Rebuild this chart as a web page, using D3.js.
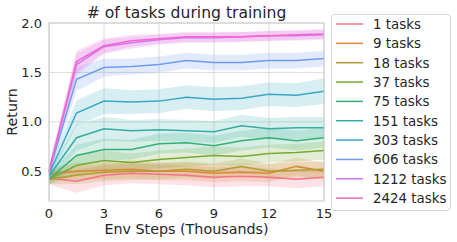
<!DOCTYPE html>
<meta charset="utf-8">
<head>
    <script type="text/javascript" src="https://cdn.jsdelivr.net/npm/d3@7"></script>
    <style>
        body { margin: 0; background: #fff; }
        text { font-family: "DejaVu Sans", sans-serif; fill: #262626; }
    </style>
</head>
<body>
<div id="chart"></div>
<script>
    // env steps (thousands)
    var steps = [0, 1.5, 3, 4.5, 6, 7.5, 9, 10.5, 12, 13.5, 15];
    var taskLabels = ["1 tasks", "9 tasks", "18 tasks", "37 tasks", "75 tasks",
        "151 tasks", "303 tasks", "606 tasks", "1212 tasks", "2424 tasks"];
    var colors = ["#f77189", "#dc8932", "#ae9d31", "#77ab31", "#33b07a",
        "#36ada4", "#38a9c5", "#6e9bf4", "#cc7af4", "#f565cc"];

    // mean return per series
    var ret1    = [0.43, 0.40, 0.46, 0.48, 0.47, 0.46, 0.44, 0.45, 0.44, 0.42, 0.44];
    var ret9    = [0.47, 0.50, 0.51, 0.52, 0.50, 0.50, 0.48, 0.49, 0.48, 0.55, 0.50];
    var ret18   = [0.42, 0.46, 0.49, 0.50, 0.50, 0.52, 0.50, 0.55, 0.50, 0.51, 0.52];
    var ret37   = [0.42, 0.56, 0.61, 0.59, 0.62, 0.64, 0.66, 0.65, 0.68, 0.69, 0.71];
    var ret75   = [0.42, 0.66, 0.72, 0.72, 0.78, 0.79, 0.76, 0.81, 0.84, 0.81, 0.84];
    var ret151  = [0.45, 0.84, 0.93, 0.91, 0.92, 0.91, 0.90, 0.96, 0.93, 0.94, 0.94];
    var ret303  = [0.47, 1.09, 1.21, 1.20, 1.21, 1.25, 1.23, 1.24, 1.28, 1.27, 1.31];
    var ret606  = [0.49, 1.43, 1.55, 1.56, 1.58, 1.62, 1.60, 1.60, 1.62, 1.62, 1.64];
    var ret1212 = [0.50, 1.58, 1.76, 1.80, 1.83, 1.85, 1.85, 1.86, 1.87, 1.87, 1.88];
    var ret2424 = [0.50, 1.61, 1.77, 1.82, 1.84, 1.86, 1.86, 1.86, 1.87, 1.88, 1.89];

    // half width of confidence band per series
    var ci1    = [0.06, 0.12, 0.10, 0.10, 0.10, 0.10, 0.10, 0.10, 0.09, 0.09, 0.09];
    var ci9    = [0.05, 0.09, 0.09, 0.09, 0.09, 0.09, 0.09, 0.09, 0.09, 0.09, 0.09];
    var ci18   = [0.05, 0.09, 0.09, 0.09, 0.08, 0.08, 0.08, 0.08, 0.08, 0.08, 0.08];
    var ci37   = [0.05, 0.10, 0.10, 0.09, 0.09, 0.09, 0.09, 0.09, 0.09, 0.09, 0.09];
    var ci75   = [0.05, 0.11, 0.11, 0.10, 0.10, 0.10, 0.10, 0.10, 0.10, 0.10, 0.10];
    var ci151  = [0.05, 0.13, 0.12, 0.11, 0.11, 0.11, 0.11, 0.11, 0.11, 0.11, 0.11];
    var ci303  = [0.05, 0.13, 0.13, 0.12, 0.12, 0.12, 0.12, 0.12, 0.12, 0.12, 0.13];
    var ci606  = [0.05, 0.12, 0.09, 0.08, 0.08, 0.08, 0.08, 0.08, 0.08, 0.08, 0.08];
    var ci1212 = [0.06, 0.11, 0.07, 0.06, 0.05, 0.05, 0.05, 0.05, 0.05, 0.05, 0.05];
    var ci2424 = [0.06, 0.11, 0.07, 0.06, 0.05, 0.05, 0.05, 0.05, 0.05, 0.05, 0.05];

    var xTicks = [0, 3, 6, 9, 12, 15];
    var yTicks = [0.5, 1.0, 1.5, 2.0];

    var means = [ret1, ret9, ret18, ret37, ret75, ret151, ret303, ret606, ret1212, ret2424];
    var cis = [ci1, ci9, ci18, ci37, ci75, ci151, ci303, ci606, ci1212, ci2424];

    var w = 457, h = 242;
    var margin = {left: 49, right: 133, top: 23, bottom: 41};

    var svg = d3.select("#chart").append("svg")
        .attr("width", w).attr("height", h);

    var x = d3.scaleLinear().domain([0, 15]).range([margin.left, w - margin.right]);
    var y = d3.scaleLinear().domain([0.2, 2.0]).range([h - margin.bottom, margin.top]);

    // grid
    svg.append("g").selectAll("line.vg").data(xTicks).enter().append("line")
        .attr("x1", d => x(d)).attr("x2", d => x(d))
        .attr("y1", y(0.2)).attr("y2", y(2.0))
        .attr("stroke", "#dcdcdc").attr("stroke-width", 1);
    svg.append("g").selectAll("line.hg").data(yTicks).enter().append("line")
        .attr("x1", x(0)).attr("x2", x(15))
        .attr("y1", d => y(d)).attr("y2", d => y(d))
        .attr("stroke", "#dcdcdc").attr("stroke-width", 1);

    var series = means.map((m, i) => ({
        label: taskLabels[i], color: colors[i],
        pts: steps.map((s, j) => ({x: s, y: m[j], lo: m[j] - cis[i][j], hi: m[j] + cis[i][j]}))
    }));

    var area = d3.area().x(d => x(d.x)).y0(d => y(d.lo)).y1(d => y(d.hi));
    var line = d3.line().x(d => x(d.x)).y(d => y(d.y));

    var plot = svg.append("g");
    plot.selectAll("path.band").data(series).enter().append("path")
        .attr("d", d => area(d.pts))
        .attr("fill", d => d.color).attr("fill-opacity", 0.2);
    plot.selectAll("path.ln").data(series).enter().append("path")
        .attr("d", d => line(d.pts))
        .attr("fill", "none").attr("stroke", d => d.color).attr("stroke-width", 1.5);

    // frame
    svg.append("rect")
        .attr("x", x(0)).attr("y", y(2.0))
        .attr("width", x(15) - x(0)).attr("height", y(0.2) - y(2.0))
        .attr("fill", "none").attr("stroke", "#cccccc").attr("stroke-width", 1);

    // tick labels
    svg.append("g").selectAll("text").data(xTicks).enter().append("text")
        .attr("x", d => x(d)).attr("y", y(0.2) + 16.5)
        .attr("text-anchor", "middle").attr("font-size", 13)
        .text(d => d);
    svg.append("g").selectAll("text").data(yTicks).enter().append("text")
        .attr("x", x(0) - 7).attr("y", d => y(d) + 4.5)
        .attr("text-anchor", "end").attr("font-size", 13)
        .text(d => d3.format(".1f")(d));

    svg.append("text")
        .attr("x", (x(0) + x(15)) / 2).attr("y", 234)
        .attr("text-anchor", "middle").attr("font-size", 14.3)
        .text("Env Steps (Thousands)");
    svg.append("text")
        .attr("transform", "translate(17," + ((y(0.2) + y(2.0)) / 2) + ") rotate(-90)")
        .attr("text-anchor", "middle").attr("font-size", 14.3)
        .text("Return");
    svg.append("text")
        .attr("x", (x(0) + x(15)) / 2).attr("y", 17.5)
        .attr("text-anchor", "middle").attr("font-size", 15.6)
        .text("# of tasks during training");

    // legend
    var lg = svg.append("g");
    lg.append("rect")
        .attr("x", 331.5).attr("y", 14.5).attr("width", 119).attr("height", 196)
        .attr("rx", 3).attr("fill", "#fff").attr("fill-opacity", 0.8)
        .attr("stroke", "#d6d6d6").attr("stroke-width", 1);
    var item = lg.selectAll("g.item").data(series).enter().append("g")
        .attr("transform", (d, i) => "translate(0," + (24 + i * 19.35) + ")");
    item.append("line")
        .attr("x1", 336).attr("x2", 363).attr("y1", 0).attr("y2", 0)
        .attr("stroke", d => d.color).attr("stroke-width", 1.5);
    item.append("text")
        .attr("x", 373).attr("y", 4.8).attr("font-size", 13.4)
        .text(d => d.label);
</script>
</body>
